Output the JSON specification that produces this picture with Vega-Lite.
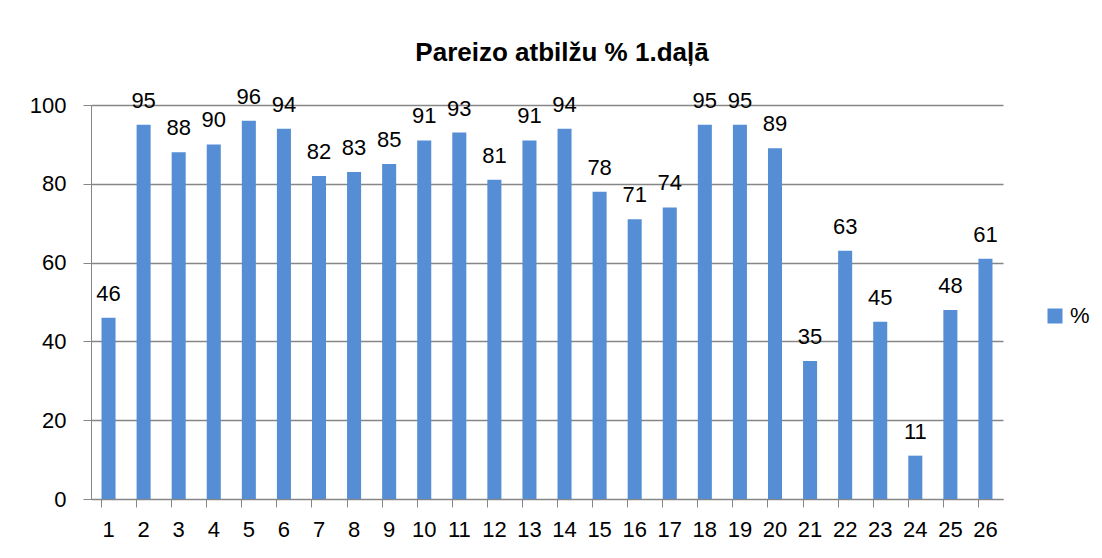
{
  "$schema": "https://vega.github.io/schema/vega-lite/v6.json",
  "autosize": "none",
  "width": 912,
  "height": 394,
  "padding": {"left": 91, "top": 105, "right": 99, "bottom": 59},
  "background": "white",
  "title": {
    "text": "Pareizo atbilžu % 1.daļā",
    "font": "Liberation Sans",
    "fontSize": 26,
    "fontWeight": "bold",
    "color": "#000000",
    "anchor": "middle",
    "dx": 15,
    "offset": 20
  },
  "data": {
    "values": [
      {"q": "1", "v": 46}, {"q": "2", "v": 95}, {"q": "3", "v": 88}, {"q": "4", "v": 90},
      {"q": "5", "v": 96}, {"q": "6", "v": 94}, {"q": "7", "v": 82}, {"q": "8", "v": 83},
      {"q": "9", "v": 85}, {"q": "10", "v": 91}, {"q": "11", "v": 93}, {"q": "12", "v": 81},
      {"q": "13", "v": 91}, {"q": "14", "v": 94}, {"q": "15", "v": 78}, {"q": "16", "v": 71},
      {"q": "17", "v": 74}, {"q": "18", "v": 95}, {"q": "19", "v": 95}, {"q": "20", "v": 89},
      {"q": "21", "v": 35}, {"q": "22", "v": 63}, {"q": "23", "v": 45}, {"q": "24", "v": 11},
      {"q": "25", "v": 48}, {"q": "26", "v": 61}
    ]
  },
  "encoding": {
    "x": {
      "field": "q",
      "type": "ordinal",
      "sort": null,
      "scale": {"paddingInner": 0.6, "paddingOuter": 0.3},
      "axis": {
        "title": null,
        "labelAngle": 0,
        "labelFont": "Liberation Sans",
        "labelFontSize": 22,
        "labelColor": "#000000",
        "labelPadding": 12,
        "bandPosition": 0,
        "domainColor": "#868686",
        "tickColor": "#868686",
        "tickSize": 8,
        "grid": false
      }
    },
    "y": {
      "field": "v",
      "type": "quantitative",
      "scale": {"domain": [0, 100]},
      "axis": {
        "title": null,
        "values": [0, 20, 40, 60, 80, 100],
        "labelFont": "Liberation Sans",
        "labelFontSize": 22,
        "labelColor": "#000000",
        "labelPadding": 17,
        "domainColor": "#868686",
        "tickColor": "#868686",
        "tickSize": 8,
        "gridColor": "#868686",
        "gridWidth": 1.5
      }
    }
  },
  "layer": [
    {
      "mark": {"type": "bar"},
      "encoding": {
        "color": {
          "datum": "%",
          "type": "nominal",
          "scale": {"range": ["#558ED5"]},
          "legend": {
            "title": null,
            "orient": "none",
            "legendX": 953,
            "legendY": 200,
            "symbolType": "square",
            "symbolSize": 225,
            "symbolStrokeWidth": 0,
            "labelFont": "Liberation Sans",
            "labelFontSize": 22,
            "labelColor": "#000000"
          }
        }
      }
    },
    {
      "mark": {"type": "text", "baseline": "alphabetic", "dy": -17, "font": "Liberation Sans", "fontSize": 22, "color": "#000000"},
      "encoding": {"text": {"field": "v", "type": "quantitative"}}
    }
  ],
  "config": {"view": {"stroke": null}}
}
